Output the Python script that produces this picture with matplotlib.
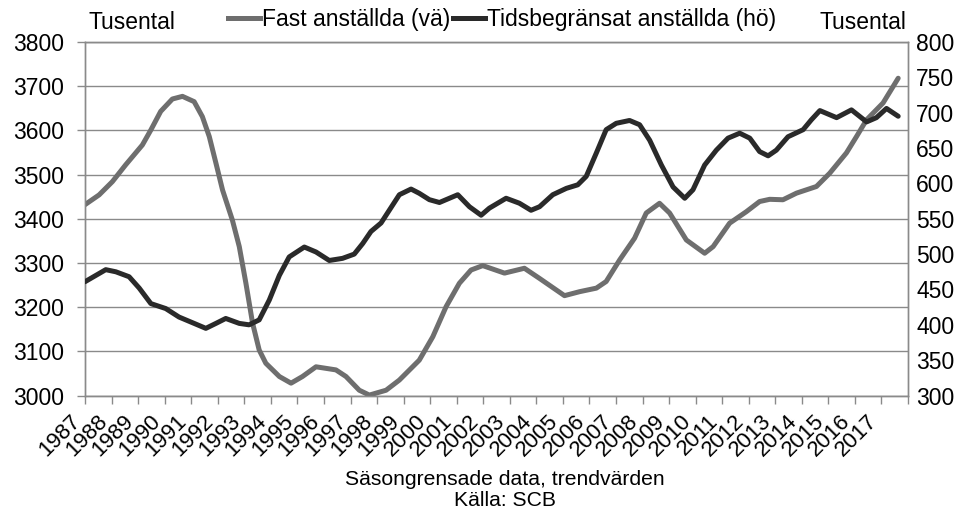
import matplotlib
matplotlib.use("Agg")
import matplotlib.pyplot as plt
from matplotlib.lines import Line2D

plt.rcParams['font.family'] = ['Liberation Sans', 'DejaVu Sans']

# Fast anställda (left axis), thousands
fast_x = [1987.0, 1987.53, 1988.03, 1988.53, 1989.16, 1989.48, 1989.85, 1990.29, 1990.67,
          1991.11, 1991.42, 1991.68, 1991.93, 1992.18, 1992.55, 1992.81, 1993.06, 1993.31,
          1993.56, 1993.81, 1994.32, 1994.76, 1995.19, 1995.70, 1996.45, 1996.83, 1997.33,
          1997.71, 1998.34, 1998.84, 1999.59, 2000.10, 2000.60, 2001.10, 2001.54, 2001.98,
          2002.80, 2003.55, 2004.12, 2005.06, 2005.63, 2006.26, 2006.63, 2007.14, 2007.70,
          2008.14, 2008.64, 2009.02, 2009.65, 2010.34, 2010.66, 2011.28, 2011.91, 2012.41,
          2012.79, 2013.29, 2013.80, 2014.55, 2015.05, 2015.68, 2016.06, 2016.44, 2017.06,
          2017.63]
fast_y = [3432, 3454, 3484, 3522, 3567, 3601, 3643, 3671, 3677,
          3665, 3631, 3586, 3526, 3465, 3397, 3337, 3254, 3164,
          3103, 3073, 3043, 3028, 3043, 3065, 3058, 3043, 3012,
          3001, 3012, 3035, 3080, 3133, 3201, 3254, 3284, 3294,
          3277, 3288, 3265, 3226, 3235, 3243, 3258, 3307, 3356,
          3413, 3435, 3413, 3352, 3322, 3337, 3390, 3416, 3439,
          3444, 3443, 3458, 3473, 3503, 3549, 3586, 3624, 3662,
          3718]

# Tidsbegränsat anställda (right axis), thousands
tids_x = [1987.0, 1987.78, 1988.16, 1988.66, 1989.04, 1989.48, 1990.04, 1990.54, 1991.11,
          1991.55, 1991.93, 1992.30, 1992.81, 1993.18, 1993.56, 1993.94, 1994.32, 1994.69,
          1995.26, 1995.70, 1996.20, 1996.70, 1997.14, 1997.46, 1997.77, 1998.15, 1998.46,
          1998.84, 1999.28, 1999.59, 1999.97, 2000.35, 2001.04, 2001.48, 2001.92, 2002.23,
          2002.86, 2003.36, 2003.80, 2004.12, 2004.62, 2005.13, 2005.56, 2005.88, 2006.26,
          2006.63, 2007.01, 2007.51, 2007.89, 2008.27, 2008.71, 2009.15, 2009.59, 2009.90,
          2010.34, 2010.78, 2011.22, 2011.66, 2012.04, 2012.41, 2012.73, 2013.04, 2013.48,
          2014.05, 2014.36, 2014.68, 2015.31, 2015.87, 2016.44, 2016.81, 2017.19, 2017.63]
tids_y = [461, 478, 475, 468, 452, 430, 423, 411, 402,
          395, 402, 409, 402, 400, 407, 435, 470, 496,
          510, 503, 491, 494, 500, 515, 532, 544, 562,
          584, 592, 586, 577, 573, 584, 567, 555, 565,
          579, 572, 562, 567, 584, 593, 598, 610, 643,
          676, 685, 689, 683, 661, 626, 595, 579, 591,
          626, 647, 664, 671, 664, 645, 639, 647, 666,
          676, 690, 703, 693, 704, 687, 693, 706, 695]

years = list(range(1987, 2019))
year_labels = [str(y) for y in range(1987, 2018)] + ['']
left_ticks = list(range(3000, 3801, 100))
right_ticks = list(range(300, 801, 50))

GRAY = '#6e6e6e'
BLACK = '#2a2a2a'
GRID = '#8a8a8a'
FS = 16.5
LW = 3.6

fig = plt.figure(figsize=(9.73, 5.14), dpi=100)
ax = fig.add_axes([0.0874, 0.2305, 0.9332 - 0.0874, 0.9183 - 0.2305])
ax2 = ax.twinx()

ax.plot(fast_x, fast_y, color=GRAY, lw=LW, solid_capstyle='round',
        solid_joinstyle='round', zorder=3)
ax2.plot(tids_x, tids_y, color=BLACK, lw=LW, solid_capstyle='round',
         solid_joinstyle='round', zorder=3)

ax.set_xlim(1987, 2018)
ax.set_ylim(3000, 3800)
ax2.set_ylim(300, 800)
ax.set_yticks(left_ticks)
ax2.set_yticks(right_ticks)
ax.set_xticks(years)
ax.set_xticklabels(year_labels, rotation=45, ha='right', va='top', fontsize=16)
ax.tick_params(axis='x', length=6, width=1, color=GRID, pad=5)
ax.tick_params(axis='y', length=6, width=1, color=GRID, pad=9, labelsize=FS)
ax2.tick_params(axis='y', length=0, pad=6, labelsize=FS)

ax.grid(axis='y', color=GRID, lw=1)
ax.set_axisbelow(True)
for a in (ax, ax2):
    for s in a.spines.values():
        s.set_color(GRID)
        s.set_linewidth(1)

fig.text(0.0905, 0.956, 'Tusental', fontsize=FS, ha='left', va='center')
fig.text(0.9315, 0.956, 'Tusental', fontsize=FS, ha='right', va='center')

handles = [Line2D([], [], color=GRAY, lw=LW), Line2D([], [], color=BLACK, lw=LW)]
fig.legend(handles, ['Fast anställda (vä)', 'Tidsbegränsat anställda (hö)'],
           loc='center', bbox_to_anchor=(0.516, 0.962), ncol=2, frameon=False,
           fontsize=FS, handlelength=1.4, handletextpad=0.1, columnspacing=0.1,
           borderaxespad=0, borderpad=0)

fig.text(0.519, 0.068, 'Säsongrensade data, trendvärden', fontsize=15.2, ha='center', va='center')
fig.text(0.519, 0.026, 'Källa: SCB', fontsize=15.2, ha='center', va='center')

fig.savefig('out.png', dpi=100)
